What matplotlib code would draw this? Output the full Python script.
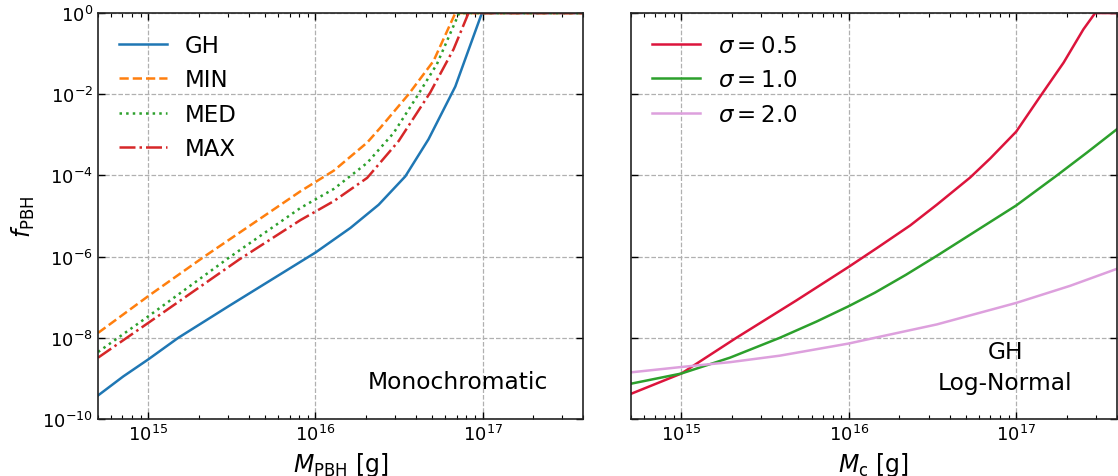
import matplotlib
matplotlib.use("Agg")
import matplotlib.pyplot as plt
from matplotlib.ticker import LogLocator, NullLocator, NullFormatter

# ---------------- data ----------------
# Left panel: monochromatic
gh_mass = [5.0e14, 7.08e14, 1.0e15, 1.51e15, 3.02e15, 1.0e16, 1.62e16, 2.39e16,
           3.45e16, 4.75e16, 6.87e16, 9.91e16, 4.0e17]
gh_f = [3.8e-10, 1.12e-9, 2.95e-9, 1.0e-8, 6.0e-8, 1.26e-6, 5.1e-6, 1.9e-5,
        9.5e-5, 7.8e-4, 1.55e-2, 1.0, 1.0]

min_mass = [5.0e14, 1.0e15, 2.16e15, 8.13e15, 1.29e16, 2.04e16, 2.45e16, 3.61e16,
            5.09e16, 6.87e16, 4.0e17]
min_f = [1.32e-8, 1.07e-7, 1.0e-6, 4.07e-5, 1.32e-4, 6.46e-4, 1.51e-3, 1.0e-2,
         6.61e-2, 1.0, 1.0]

med_mass = [5.0e14, 1.0e15, 3.05e15, 8.13e15, 1.29e16, 2.04e16, 2.94e16, 3.96e16,
            5.33e16, 7.24e16, 4.0e17]
med_f = [4.47e-9, 3.39e-8, 9.55e-7, 1.58e-5, 4.68e-5, 2.04e-4, 1.12e-3, 7.59e-3,
         5.5e-2, 1.0, 1.0]

max_mass = [5.0e14, 1.0e15, 3.50e15, 8.13e15, 1.29e16, 2.04e16, 3.15e16, 4.86e16,
            6.71e16, 8.24e16, 4.0e17]
max_f = [3.24e-9, 2.34e-8, 8.51e-7, 7.94e-6, 2.34e-5, 8.71e-5, 7.08e-4, 1.10e-2,
         0.129, 1.0, 1.0]

mono_labels = ["GH", "MIN", "MED", "MAX"]

# Right panel: log-normal (GH)
s05_mass = [5.0e14, 1.0e15, 2.13e15, 4.86e15, 1.0e16, 1.47e16, 2.33e16, 3.36e16,
            5.31e16, 7.0e16, 1.0e17, 1.42e17, 1.92e17, 2.52e17, 2.96e17, 4.0e17]
s05_f = [4.17e-10, 1.32e-9, 1.0e-8, 8.32e-8, 5.62e-7, 1.62e-6, 5.89e-6, 1.91e-5,
         8.91e-5, 2.63e-4, 1.20e-3, 1.0e-2, 6.03e-2, 0.398, 1.0, 1.0]

s10_mass = [5.0e14, 1.0e15, 1.95e15, 3.87e15, 6.41e15, 1.0e16, 1.43e16, 2.19e16,
            3.36e16, 6.38e16, 1.0e17, 1.75e17, 2.64e17, 4.0e17]
s10_f = [7.41e-10, 1.32e-9, 3.24e-9, 1.0e-8, 2.51e-8, 6.03e-8, 1.29e-7, 3.55e-7,
         1.05e-6, 5.62e-6, 1.82e-5, 1.0e-4, 3.63e-4, 1.38e-3]

s20_mass = [5.0e14, 1.0e15, 1.95e15, 3.87e15, 1.0e16, 1.43e16, 3.36e16, 1.0e17,
            2.10e17, 4.0e17]
s20_f = [1.41e-9, 1.91e-9, 2.51e-9, 3.63e-9, 7.24e-9, 1.0e-8, 2.14e-8, 7.24e-8,
         1.91e-7, 5.01e-7]

sigma_labels = [r"$\sigma = 0.5$", r"$\sigma = 1.0$", r"$\sigma = 2.0$"]

xlim = (5e14, 4e17)
ylim = (1e-10, 1e0)
yticks = [1e-10, 1e-8, 1e-6, 1e-4, 1e-2, 1e0]

# ---------------- figure ----------------
plt.rcParams["font.family"] = ["DejaVu Sans"]
fig = plt.figure(figsize=(11.18, 4.77), dpi=100)
ax1 = fig.add_axes([0.0877, 0.1195, 0.4339, 0.851])
ax2 = fig.add_axes([0.5644, 0.1195, 0.4347, 0.851])

lw = 1.8
ax1.plot(gh_mass, gh_f, color="#1f77b4", lw=lw, ls="-", label=mono_labels[0])
ax1.plot(min_mass, min_f, color="#ff7f0e", lw=lw, ls="--", label=mono_labels[1])
ax1.plot(med_mass, med_f, color="#2ca02c", lw=lw, ls=":", label=mono_labels[2])
ax1.plot(max_mass, max_f, color="#d62728", lw=lw, ls="-.", label=mono_labels[3])

ax2.plot(s05_mass, s05_f, color="#dc143c", lw=lw, label=sigma_labels[0])
ax2.plot(s10_mass, s10_f, color="#2ca02c", lw=lw, label=sigma_labels[1])
ax2.plot(s20_mass, s20_f, color="#dda0dd", lw=lw, label=sigma_labels[2])

for ax in (ax1, ax2):
    ax.set_xscale("log")
    ax.set_yscale("log")
    ax.set_xlim(*xlim)
    ax.set_ylim(*ylim)
    ax.set_yticks(yticks)
    ax.yaxis.set_minor_locator(NullLocator())
    ax.xaxis.set_major_locator(LogLocator(base=10, numticks=10))
    ax.xaxis.set_minor_locator(LogLocator(base=10, subs=range(2, 10), numticks=20))
    ax.xaxis.set_minor_formatter(NullFormatter())
    ax.tick_params(which="both", direction="in", top=True, right=True,
                   labelsize=13)
    ax.tick_params(which="major", length=5, width=1.0)
    ax.tick_params(which="minor", length=3, width=0.8)
    ax.grid(True, which="major", ls="--", color="#b0b0b0", lw=0.9)
    for sp in ax.spines.values():
        sp.set_linewidth(1.2)
        sp.set_color("#222222")
    ax.legend(loc="upper left", frameon=False, fontsize=16.5, handlelength=2.1,
              labelspacing=0.5)

ax2.tick_params(labelleft=False)

ax1.set_xlabel(r"$M_{\rm PBH}$ [g]", fontsize=17)
ax2.set_xlabel(r"$M_{\rm c}$ [g]", fontsize=17)
ax1.set_ylabel(r"$f_{\rm PBH}$", fontsize=17)

ax1.text(0.928, 0.065, "Monochromatic", transform=ax1.transAxes,
         ha="right", va="bottom", fontsize=16.8)
ax2.text(0.77, 0.062, "GH\nLog-Normal", transform=ax2.transAxes,
         ha="center", va="bottom", multialignment="center", fontsize=16.8,
         linespacing=1.45)

fig.savefig("out.png", dpi=100)
